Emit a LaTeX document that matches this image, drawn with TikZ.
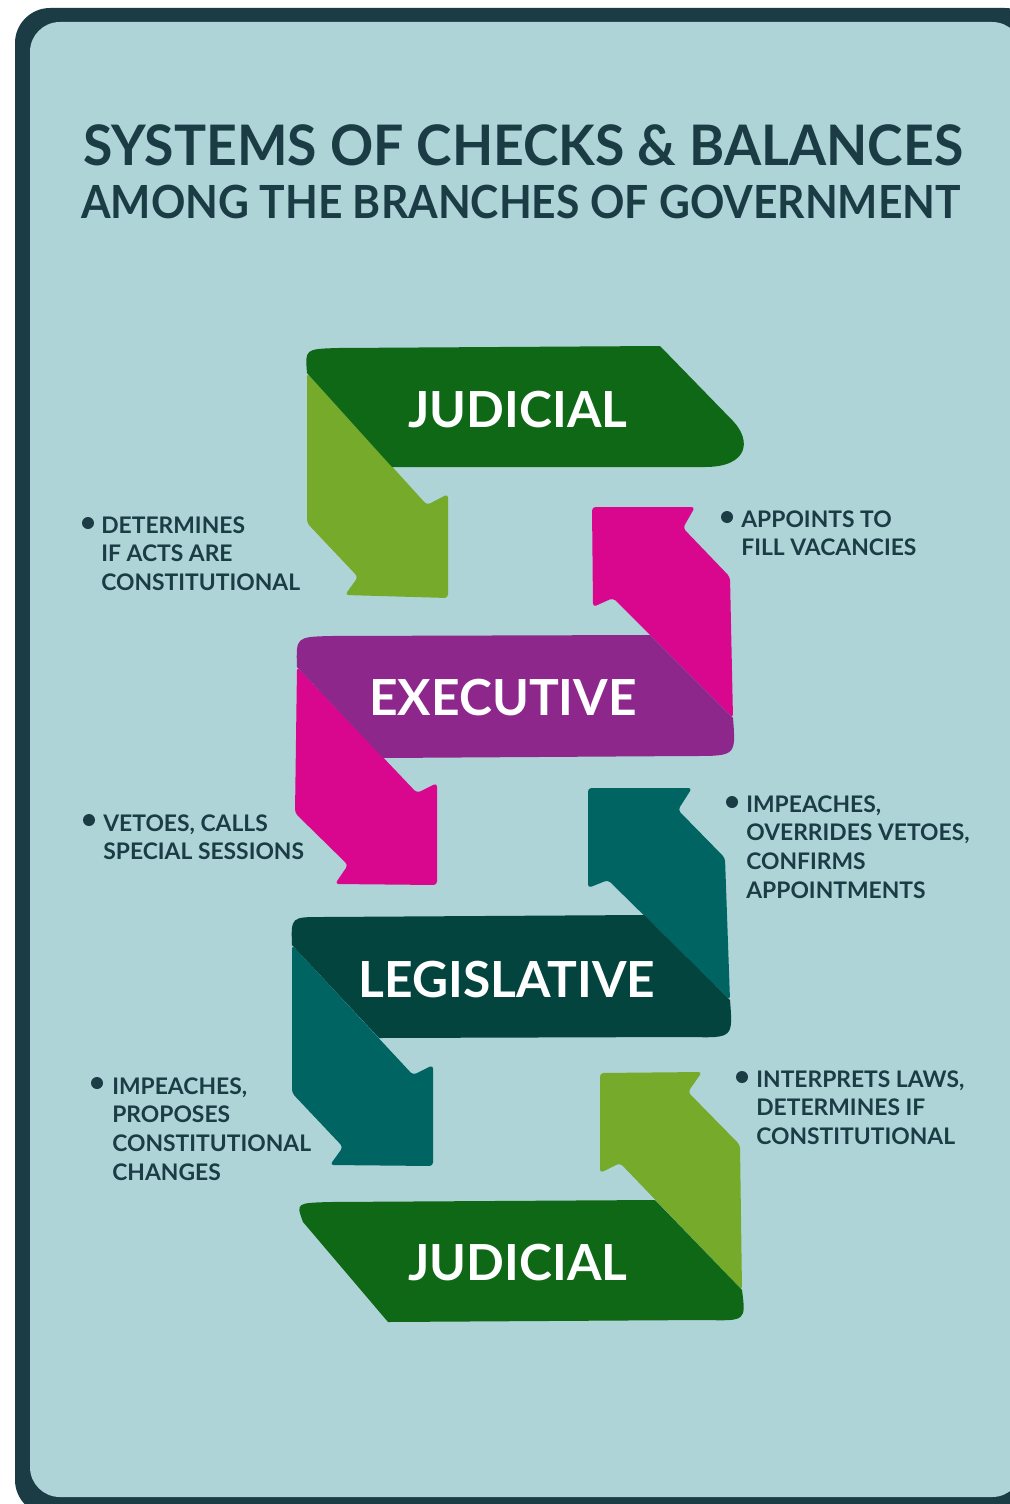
\documentclass[tikz,border=0pt]{standalone}
\usepackage{fontspec}
\setmainfont{Lato}
\usetikzlibrary{calc}

\definecolor{framecol}{HTML}{1B3B45}
\definecolor{bgcol}{HTML}{AFD4D8}
\definecolor{jdark}{HTML}{0E6816}
\definecolor{jlight}{HTML}{76AA2B}
\definecolor{epurple}{HTML}{8E278C}
\definecolor{emagenta}{HTML}{D9078E}
\definecolor{ldark}{HTML}{03443E}
\definecolor{lteal}{HTML}{006462}

\begin{document}
\begin{tikzpicture}[x=0.02cm, y=-0.02cm,
title_style/.style={text=framecol, font=\fontsize{31.8}{36}\selectfont\bfseries, anchor=base, inner sep=0pt},
subtitle_style/.style={text=framecol, font=\fontsize{26}{30}\selectfont\bfseries, anchor=base, inner sep=0pt},
branch_style/.style={text=white, font=\fontsize{28.3}{32}\selectfont\bfseries, anchor=base, inner sep=0pt},
check_style/.style={text=framecol, font=\fontsize{13}{16.45}\selectfont\bfseries, align=left, anchor=north west, inner sep=0pt},
dot_style/.style={circle, fill=framecol, minimum size=0.24cm, inner sep=0pt},
arrow_style/.style={rounded corners=2pt},
]

\useasboundingbox (0,0) rectangle (1010,1504);

\begin{scope}
	\clip (0,0) rectangle (1010,1504);
	\fill[framecol, rounded corners=20pt] (15,8) rectangle (1040,1515);
	\fill[bgcol, rounded corners=17pt] (30,22) rectangle (1022,1497);
\end{scope}

\node[title_style] at (523,165) (title) {\scalebox{0.958}[1]{SYSTEMS OF CHECKS \& BALANCES}};
\node[subtitle_style] at (521,218) (subtitle) {\scalebox{0.933}[1]{AMONG THE BRANCHES OF GOVERNMENT}};

% judicial (top)
\fill[jlight, arrow_style] (307,373) -- (307,523) -- (358,577) -- (345,595) -- (448,598) -- (448,494) -- (427,505) -- cycle;
\fill[jdark] (307,373) .. controls (305,349) .. (338,348) -- (660,346) -- (733,421) .. controls (752,441) and (748,467) .. (705,467) -- (392,467) -- cycle;

% executive
\fill[emagenta, arrow_style] (613,598) -- (593,607) -- (592,507) -- (695,507) -- (683,528) -- (730,577) -- (733,718) -- cycle;
\fill[emagenta, arrow_style] (297,667) -- (295,813) -- (348,865) -- (335,884) -- (437,885) -- (437,783) -- (417,793) -- cycle;
\fill[epurple] (297,667) .. controls (296,637) .. (330,636) -- (650,635) -- (733,718) .. controls (736,756) .. (692,756) -- (383,758) -- cycle;

% legislative
\fill[lteal, arrow_style] (608,880) -- (588,888) -- (588,788) -- (692,788) -- (678,810) -- (725,858) -- (730,1000) -- cycle;
\fill[lteal, arrow_style] (292,945) -- (292,1093) -- (343,1147) -- (330,1165) -- (433,1166) -- (433,1065) -- (413,1075) -- cycle;
\fill[ldark] (292,945) .. controls (291,917) .. (322,917) -- (644,915) -- (730,1000) .. controls (733,1038) .. (690,1037) -- (379,1038) -- cycle;

% judicial (bottom)
\fill[jlight, arrow_style] (620,1163) -- (600,1173) -- (600,1073) -- (702,1072) -- (688,1092) -- (740,1145) -- (742,1290) -- cycle;
\fill[jdark] (303,1222) .. controls (296,1203) .. (330,1202) -- (655,1200) -- (742,1290) .. controls (746,1321) .. (705,1320) -- (388,1322) -- cycle;

\node[branch_style] at (518,427) (judicial1) {JUDICIAL};
\node[branch_style] at (503,715) (executive) {EXECUTIVE};
\node[branch_style] at (507,997) (legislative) {LEGISLATIVE};
\node[branch_style] at (518,1280) (judicial2) {JUDICIAL};

\node[dot_style] at (88,523) (dot1) {};
\node[check_style] at (101,516) (check1) {DETERMINES\\IF ACTS ARE\\CONSTITUTIONAL};
\node[dot_style] at (727,517) (dot2) {};
\node[check_style] at (741,510) (check2) {APPOINTS TO\\FILL VACANCIES};
\node[dot_style] at (89,820) (dot3) {};
\node[check_style] at (103,814) (check3) {VETOES, CALLS\\SPECIAL SESSIONS};
\node[dot_style] at (732,802) (dot4) {};
\node[check_style] at (746,795) (check4) {IMPEACHES,\\OVERRIDES VETOES,\\CONFIRMS\\APPOINTMENTS};
\node[dot_style] at (97,1083) (dot5) {};
\node[check_style] at (112,1077) (check5) {IMPEACHES,\\PROPOSES\\CONSTITUTIONAL\\CHANGES};
\node[dot_style] at (742,1077) (dot6) {};
\node[check_style] at (756,1070) (check6) {INTERPRETS LAWS,\\DETERMINES IF\\CONSTITUTIONAL};

\end{tikzpicture}
\end{document}
